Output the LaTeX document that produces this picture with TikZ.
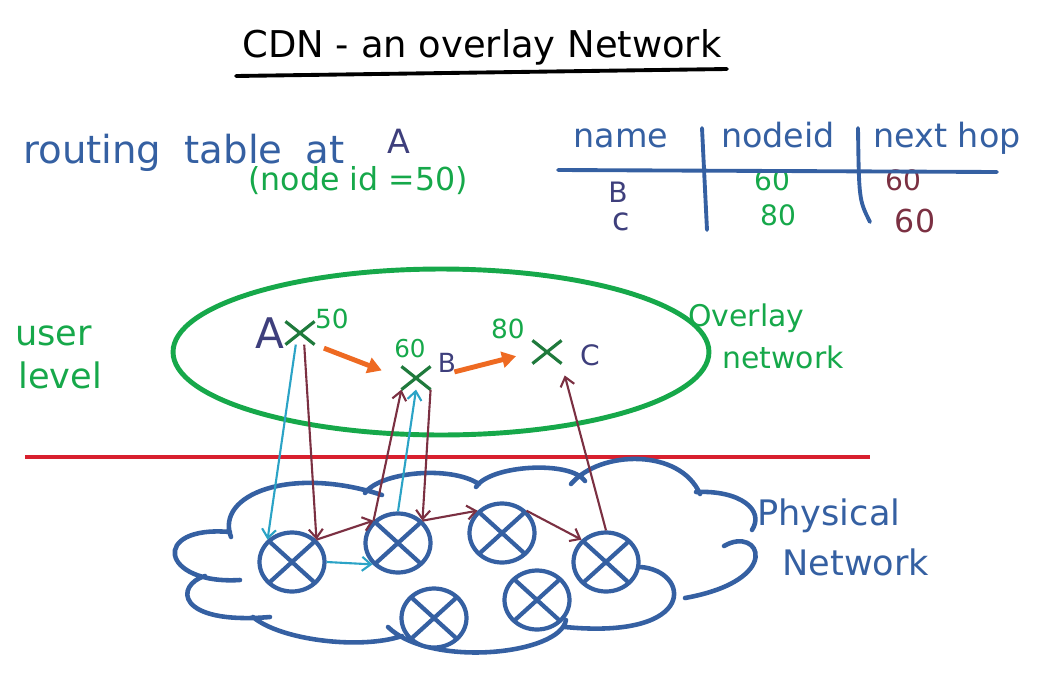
\documentclass[tikz,border=0pt]{standalone}
\usepackage{fontspec}
\setmainfont{DejaVu Sans}
\usepackage{tikz}
\usetikzlibrary{shapes,arrows.meta}
\usetikzlibrary{shapes.misc}

\definecolor{penblue}{HTML}{3560A2}
\definecolor{navy}{HTML}{3E3F7C}
\definecolor{pengreen}{HTML}{16A84A}
\definecolor{darkgreen}{HTML}{1F7A3C}
\definecolor{orangepen}{HTML}{EE6A22}
\definecolor{cyanpen}{HTML}{2BA3C6}
\definecolor{maroon}{HTML}{7B3042}
\definecolor{redpen}{HTML}{D8202E}

\tikzset{
  hand/.style={font=\fontsize{#1}{#1}\selectfont,inner sep=0pt,anchor=base},
  router/.style={ellipse,draw=penblue,fill=white,line width=2.4pt,minimum width=1.3cm,minimum height=1.18cm,inner sep=0pt,
    path picture={\draw[penblue,line width=2.4pt] (path picture bounding box.south west) -- (path picture bounding box.north east)
      (path picture bounding box.north west) -- (path picture bounding box.south east);}},
  peer/.style={cross out,draw=darkgreen,line width=1.8pt,minimum width=0.52cm,minimum height=0.4cm,inner sep=0pt},
  cloudline/.style={penblue,line width=2.6pt,line cap=round},
  cyanlink/.style={->,cyanpen,line width=1.2pt},
  maroonlink/.style={->,maroon,line width=1.2pt},
  hop/.style={-{Triangle[length=8pt,width=9pt]},orangepen,line width=2.8pt},
  rule/.style={penblue,line width=2.2pt,line cap=round}
}

\begin{document}
\begin{tikzpicture}[x=0.02cm,y=-0.02cm,>={Straight Barb[length=5pt,width=8pt]}]
\useasboundingbox (0,0) rectangle (1045,683);

% title
\node [hand=21] (title) at (482,57) {CDN - an overlay Network};
\coordinate (ulL) at (236,76);
\coordinate (ulR) at (727,69);
\draw [line width=2.2pt,line cap=round] (ulL) -- (ulR);

% routing table at A
\node [hand=22,penblue,anchor=base west] (rt) at (23,163) {routing\hspace{0.6em}table\hspace{0.6em}at};
\node [hand=19,navy] (rtA) at (399,153) {A};
\node [hand=18,pengreen] (rtid) at (358,190) {(node id =50)};

\node [hand=19,penblue] (hname) at (621,147) {name};
\node [hand=19,penblue] (hid) at (778,147) {nodeid};
\node [hand=19,penblue] (hhop) at (947,147) {next hop};
\node [hand=16,navy] (nB) at (618,202) {B};
\node [hand=16,pengreen] (idB) at (772,190) {60};
\node [hand=16,maroon] (hopB) at (903,190) {60};
\node [hand=18,navy] (nC) at (621,230) {c};
\node [hand=16,pengreen] (idC) at (778,225) {80};
\node [hand=18,maroon] (hopC) at (915,232) {60};
\coordinate (hl1) at (558,170);
\coordinate (hl2) at (997,172);
\coordinate (vl1a) at (702,128);
\coordinate (vl1b) at (707,230);
\coordinate (vl2a) at (858,128);
\coordinate (vl2b) at (870,222);
\draw [rule] (hl1) -- (hl2);
\draw [rule] (vl1a) -- (vl1b);
\draw [rule] (vl2a) .. controls (859,200) .. (vl2b);

% user level
\node [hand=20,pengreen,anchor=base west] (user) at (15,345) {user};
\node [hand=20,pengreen,anchor=base west] (level) at (18,388) {level};

% overlay
\node [ellipse,draw=pengreen,line width=2.8pt,minimum width=10.72cm,minimum height=3.32cm] (overlay) at (441,352) {};
\node [hand=17,pengreen,anchor=base west] (ovl1) at (688,326) {Overlay};
\node [hand=17,pengreen,anchor=base west] (ovl2) at (722,368) {network};

\node [peer] (a) at (300,333) {};
\node [peer] (b) at (416,378) {};
\node [peer] (c) at (547,352) {};
\node [hand=24,navy] (la) at (270,348) {A};
\node [hand=15,pengreen] (ida) at (332,328) {50};
\node [hand=15,navy] (lb) at (447,372) {B};
\node [hand=14,pengreen] (idb) at (410,357) {60};
\node [hand=16,navy] (lc) at (590,365) {C};
\node [hand=15,pengreen] (idc) at (508,338) {80};

\draw [hop,shorten <=5.7pt,shorten >=12pt] (a.south east) -- (b.west);
\draw [hop,shorten <=14pt,shorten >=9.6pt] (b.east) -- (c.west);

% separator
\coordinate (sepL) at (25,457);
\coordinate (sepR) at (870,457);
\draw [redpen,line width=2.8pt] (sepL) -- (sepR);

% physical network
\draw [cloudline]
  (240,580) .. controls (160,585) and (150,525) .. (230,532)
  (231,537) .. controls (215,495) and (290,465) .. (382,495)
  (365,493) .. controls (380,472) and (450,465) .. (479,484)
  (476,487) .. controls (490,465) and (570,460) .. (585,481)
  (571,484) .. controls (600,450) and (680,448) .. (700,494)
  (696,492) .. controls (740,490) and (765,510) .. (752,530)
  (724,546) .. controls (760,525) and (785,580) .. (685,598)
  (640,567) .. controls (690,570) and (700,640) .. (565,627)
  (566,620) .. controls (560,655) and (430,668) .. (388,627)
  (402,636) .. controls (360,650) and (280,640) .. (253,617)
  (205,576) .. controls (175,585) and (175,625) .. (270,617);
\node [hand=20,penblue,anchor=base west] (phy1) at (757,525) {Physical};
\node [hand=20,penblue,anchor=base west] (phy2) at (782,575) {Network};

\node [router] (r1) at (292,562) {};
\node [router] (r2) at (398,543) {};
\node [router] (r3) at (502,533) {};
\node [router] (r4) at (606,562) {};
\node [router] (r5) at (434,618) {};
\node [router] (r6) at (537,600) {};

\draw [cyanlink] (a.-110) -- (r1.north west);
\draw [cyanlink] (r1.east) -- (r2.220);
\draw [cyanlink] (r2.north) -- (b.south);
\draw [maroonlink] (a.-70) -- (r1.north east);
\draw [maroonlink] (r1.north east) -- (r2.north west);
\draw [maroonlink] (r2.north west) -- (b.south west);
\draw [maroonlink] (b.south east) -- (r2.north east);
\draw [maroonlink] (r2.north east) -- (r3.north west);
\draw [maroonlink] (r3.north east) -- (r4.north west);
\draw [maroonlink,shorten >=7pt] (r4.north) -- (c.south east);
\end{tikzpicture}
\end{document}
